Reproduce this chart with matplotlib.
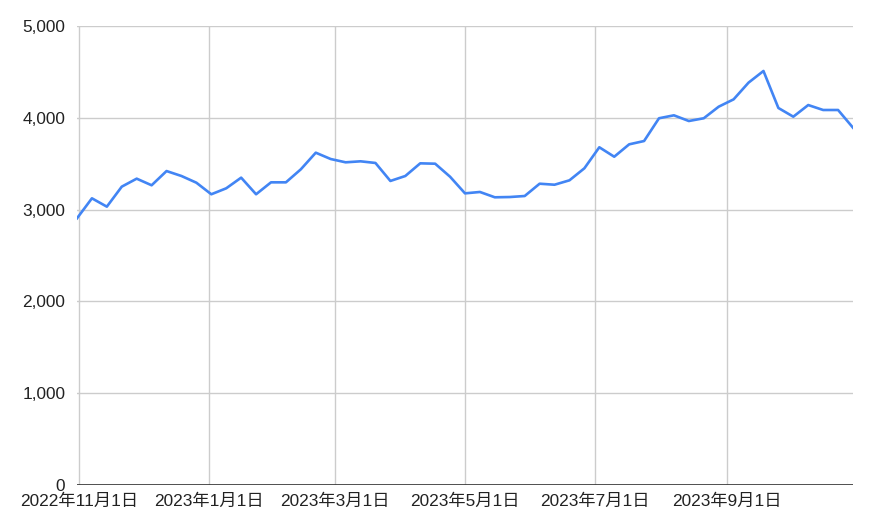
import numpy as np
import pandas as pd
import matplotlib
matplotlib.use("Agg")
import matplotlib.pyplot as plt

plt.rcParams['font.family'] = ['Liberation Sans', 'Noto Sans CJK JP', 'DejaVu Sans']

# weekly values
start_date = "2022-10-31"
values = [2905, 3123, 3032, 3250, 3337, 3265, 3420, 3366, 3293, 3167,
          3232, 3348, 3167, 3297, 3297, 3439, 3620, 3551, 3515, 3526,
          3508, 3312, 3366, 3504, 3500, 3358, 3177, 3192, 3134, 3137,
          3148, 3282, 3271, 3319, 3450, 3679, 3576, 3711, 3747, 3995,
          4027, 3965, 3995, 4121, 4201, 4383, 4510, 4107, 4012, 4139,
          4085, 4085, 3892]
dates = pd.date_range(start_date, periods=len(values), freq="7D")

tick_dates = pd.to_datetime(["2022-11-01", "2023-01-01", "2023-03-01",
                             "2023-05-01", "2023-07-01", "2023-09-01"])
tick_labels = ["2022年11月1日", "2023年1月1日", "2023年3月1日",
               "2023年5月1日", "2023年7月1日", "2023年9月1日"]
y_ticks = [0, 1000, 2000, 3000, 4000, 5000]

fig = plt.figure(figsize=(8.7, 5.3), dpi=100)
ax = fig.add_axes([77 / 870, 1 - 485 / 530, (853 - 77) / 870, (485 - 26) / 530])

ax.plot(dates, values, color="#4285F4", linewidth=1.9, solid_joinstyle="round", zorder=3)

ax.set_xlim(dates[0], dates[-1])
ax.set_ylim(0, 5000)

ax.set_xticks(tick_dates)
ax.set_xticklabels(tick_labels)
ax.set_yticks(y_ticks)
ax.set_yticklabels([f"{v:,}" for v in y_ticks])

ax.grid(True, color="#cccccc", linewidth=1)
ax.axhline(0, color="#333333", linewidth=1.2, zorder=4)

for s in ax.spines.values():
    s.set_visible(False)

ax.tick_params(axis="both", length=0, labelsize=12.4, colors="#222222")
ax.tick_params(axis="x", pad=6.5)
ax.tick_params(axis="y", pad=8.5)

fig.savefig("out.png", dpi=100)
